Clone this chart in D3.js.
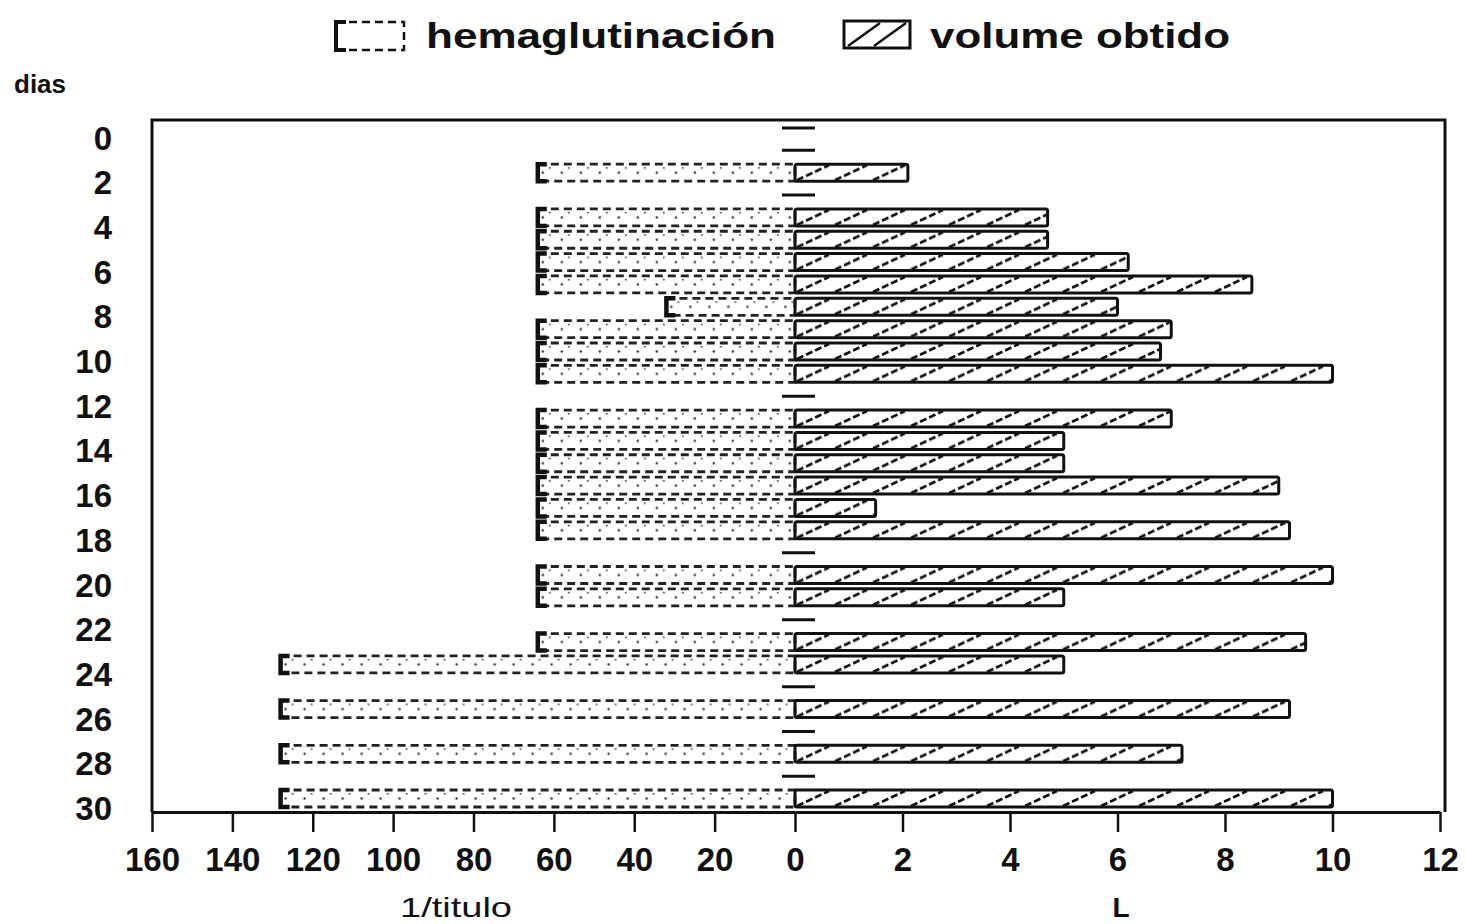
<!DOCTYPE html>
<html>
<head>
<meta charset="utf-8">
<script src="https://cdn.jsdelivr.net/npm/d3@7"></script>
<style>
body { margin: 0; background: #fff; }
text { font-family: "Liberation Sans", Arial, sans-serif; fill: #111; }
</style>
</head>
<body>
<div id="chart-area"></div>
<script>
// days with a measurement, and the two series read per day
const dias = [2, 4, 5, 6, 7, 8, 9, 10, 11, 13, 14, 15, 16, 17, 18, 20, 21, 23, 24, 26, 28, 30]
const hemaglutinacion = [64, 64, 64, 64, 64, 32, 64, 64, 64, 64, 64, 64, 64, 64, 64, 64, 64, 64, 128, 128, 128, 128]
const volume = [2.1, 4.7, 4.7, 6.2, 8.5, 6.0, 7.0, 6.8, 10.0, 7.0, 5.0, 5.0, 9.0, 1.5, 9.2, 10.0, 5.0, 9.5, 5.0, 9.2, 7.2, 10.0]
// days with no bar (short dash on the zero line)
const semDados = [0, 1, 3, 12, 19, 22, 25, 27, 29]

const diaTicks = [0, 2, 4, 6, 8, 10, 12, 14, 16, 18, 20, 22, 24, 26, 28, 30]
const tituloTicks = [160, 140, 120, 100, 80, 60, 40, 20]
const litroTicks = [0, 2, 4, 6, 8, 10, 12]

const W = 1466, H = 924
const FRAME = { LEFT: 152, RIGHT: 1441, TOP: 120, BOTTOM: 812 }
const ZERO = 795
const BAR_H = 17

const data = dias.map((d, i) => ({ dia: d, hema: hemaglutinacion[i], vol: volume[i] }))

const svg = d3.select("#chart-area").append("svg")
  .attr("width", W)
  .attr("height", H)

// patterns
const defs = svg.append("defs")
const hatch = defs.append("pattern")
  .attr("id", "hatch")
  .attr("patternUnits", "userSpaceOnUse")
  .attr("width", 38)
  .attr("height", BAR_H)
hatch.append("path")
  .attr("d", `M2,${BAR_H - 1} L34,1`)
  .attr("stroke", "#111")
  .attr("stroke-width", 2.6)
  .attr("stroke-dasharray", "7 3")

const dots = defs.append("pattern")
  .attr("id", "dots")
  .attr("patternUnits", "userSpaceOnUse")
  .attr("width", 19)
  .attr("height", BAR_H)
dots.append("circle").attr("cx", 5).attr("cy", 8.5).attr("r", 1.2).attr("fill", "#333")
dots.append("rect").attr("x", 11).attr("y", 3).attr("width", 2).attr("height", 1.5).attr("fill", "#555")

// scales
const xL = d3.scaleLinear().domain([0, 160]).range([ZERO, FRAME.LEFT])
const xR = d3.scaleLinear().domain([0, 12]).range([ZERO, FRAME.RIGHT - 1])
const y = d3.scaleLinear().domain([0, 30]).range([128, 798.5])

// frame
svg.append("path")
  .attr("d", `M${FRAME.LEFT},${FRAME.BOTTOM} V${FRAME.TOP} H${FRAME.RIGHT + 4} V${FRAME.BOTTOM}`)
  .attr("fill", "none")
  .attr("stroke", "#111")
  .attr("stroke-width", 3)

// x axes
function styleAxis(sel) {
  sel.select(".domain").attr("stroke", "#111").attr("stroke-width", 3)
  sel.selectAll(".tick line").attr("stroke", "#111").attr("stroke-width", 2.5)
  sel.selectAll(".tick text")
    .attr("font-size", 33)
    .attr("font-weight", "bold")
    .attr("fill", "#111")
    .style("font-family", "'Liberation Sans', Arial, sans-serif")
}

const axisL = svg.append("g")
  .attr("transform", `translate(0, ${FRAME.BOTTOM})`)
  .call(d3.axisBottom(xL).tickValues(tituloTicks).tickSize(20).tickSizeOuter(0).tickPadding(16))
styleAxis(axisL)

const axisR = svg.append("g")
  .attr("transform", `translate(0, ${FRAME.BOTTOM})`)
  .call(d3.axisBottom(xR).tickValues(litroTicks).tickSize(20).tickSizeOuter(0).tickPadding(16))
styleAxis(axisR)

// day labels
svg.append("g").selectAll("text")
  .data(diaTicks)
  .enter().append("text")
  .attr("x", 112)
  .attr("y", d => y(d) + 10)
  .attr("text-anchor", "end")
  .attr("dominant-baseline", "central")
  .attr("font-size", 33)
  .attr("font-weight", "bold")
  .text(d => d)

svg.append("text")
  .attr("x", 14)
  .attr("y", 93)
  .attr("font-size", 26)
  .attr("font-weight", "bold")
  .text("dias")

// dashes for empty days
svg.append("g").selectAll("line")
  .data(semDados)
  .enter().append("line")
  .attr("x1", ZERO - 13)
  .attr("x2", ZERO + 20)
  .attr("y1", d => y(d))
  .attr("y2", d => y(d))
  .attr("stroke", "#111")
  .attr("stroke-width", 3)

// hemaglutinación bars (left)
const hemaG = svg.append("g").selectAll("g")
  .data(data)
  .enter().append("g")
  .attr("transform", d => `translate(${xL(d.hema)}, ${y(d.dia) - BAR_H / 2})`)

hemaG.append("rect")
  .attr("width", d => ZERO - xL(d.hema))
  .attr("height", BAR_H)
  .attr("fill", "url(#dots)")
  .attr("stroke", "#222")
  .attr("stroke-width", 2.8)
  .attr("stroke-dasharray", "8 5")

hemaG.append("path")
  .attr("d", `M9,0 H0 V${BAR_H} H9`)
  .attr("fill", "none")
  .attr("stroke", "#111")
  .attr("stroke-width", 4.5)

// volume bars (right)
svg.append("g").selectAll("g")
  .data(data)
  .enter().append("g")
  .attr("transform", d => `translate(${xR(0)}, ${y(d.dia) - BAR_H / 2})`)
  .append("rect")
  .attr("width", d => xR(d.vol) - xR(0))
  .attr("height", BAR_H)
  .attr("rx", 2)
  .attr("fill", "url(#hatch)")
  .attr("stroke", "#111")
  .attr("stroke-width", 3)

// axis titles
svg.append("text")
  .attr("x", 456)
  .attr("y", 917)
  .attr("text-anchor", "middle")
  .attr("font-size", 28)
  .attr("textLength", 112)
  .attr("lengthAdjust", "spacingAndGlyphs")
  .text("1/titulo")

svg.append("text")
  .attr("x", 1121)
  .attr("y", 917)
  .attr("text-anchor", "middle")
  .attr("font-size", 28)
  .attr("font-weight", "bold")
  .text("L")

// legend
const legHema = svg.append("g").attr("transform", "translate(336, 22)")
legHema.append("rect")
  .attr("width", 68).attr("height", 28)
  .attr("fill", "#fff")
  .attr("stroke", "#111").attr("stroke-width", 2.5)
  .attr("stroke-dasharray", "8 5")
legHema.append("path")
  .attr("d", "M10,0 H0 V28 H10")
  .attr("fill", "none").attr("stroke", "#111").attr("stroke-width", 4)
legHema.append("text")
  .attr("x", 90).attr("y", 26)
  .attr("font-size", 35).attr("font-weight", "bold")
  .attr("textLength", 350).attr("lengthAdjust", "spacingAndGlyphs")
  .text("hemaglutinación")

const legVol = svg.append("g").attr("transform", "translate(844, 21)")
legVol.append("rect")
  .attr("width", 66).attr("height", 27)
  .attr("fill", "#fff")
  .attr("stroke", "#111").attr("stroke-width", 3)
legVol.append("path")
  .attr("d", "M4,25 L36,2 M30,25 L62,2")
  .attr("stroke", "#111").attr("stroke-width", 2.5)
legVol.append("text")
  .attr("x", 86).attr("y", 27)
  .attr("font-size", 35).attr("font-weight", "bold")
  .attr("textLength", 300).attr("lengthAdjust", "spacingAndGlyphs")
  .text("volume obtido")
</script>
</body>
</html>
